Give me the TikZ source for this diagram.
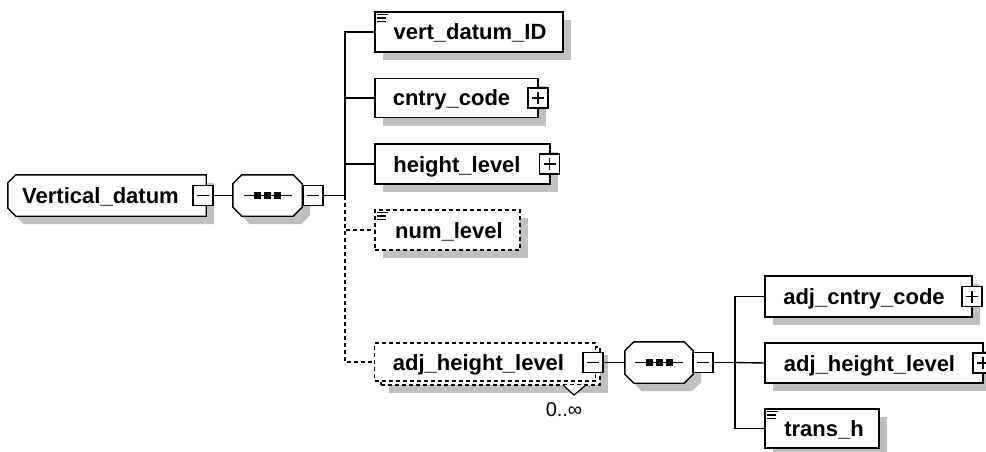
\documentclass[tikz,border=0pt]{standalone}
\usepackage{fontspec}
\setmainfont{Liberation Sans}
\usetikzlibrary{shadows}
\definecolor{shadowgray}{RGB}{192,192,192}
\tikzset{
  shd/.style={drop shadow={shadow xshift=8pt,shadow yshift=-8pt,fill=shadowgray,opacity=1}},
  elem/.style={draw, line width=1.4pt, fill=white, rectangle, inner sep=0pt, minimum height=40pt, shd},
  optelem/.style={elem, dash pattern=on 4pt off 3pt},
  anchorbox/.style={rectangle, inner sep=0pt, draw=none},
  outline/.style={draw, line width=1.4pt, fill=white, shd},
  pm/.style={draw, line width=1.2pt, fill=white, rectangle, inner sep=0pt, minimum size=20pt},
  pmline/.style={line width=1.2pt},
  conn/.style={line width=1.4pt},
  optconn/.style={conn, dash pattern=on 4pt off 3pt},
  lbl/.style={font=\fontsize{22}{22}\selectfont\bfseries, inner sep=0pt, text height=16pt, text depth=0pt},
  occ/.style={font=\fontsize{20}{20}\selectfont, inner sep=0pt},
  iconline/.style={line width=1.5pt},
}
\newcommand\mybminus[2]{\node[pm] (#1) at (#2) {};
  \draw[pmline] ([xshift=-6pt]#1.center) -- ([xshift=6pt]#1.center);}
\newcommand\mybplus[2]{\node[pm] (#1) at (#2) {};
  \draw[pmline] ([xshift=-6pt]#1.center) -- ([xshift=6pt]#1.center);
  \draw[pmline] ([yshift=-6pt]#1.center) -- ([yshift=6pt]#1.center);}
\newcommand\mybicon[1]{%
  \draw[iconline] ([xshift=3pt,yshift=-3pt]#1.north west) -- +(11,0);
  \draw[iconline] ([xshift=3pt,yshift=-6.5pt]#1.north west) -- +(9,0);
  \draw[iconline] ([xshift=3pt,yshift=-10pt]#1.north west) -- +(9,0);}
% octagon outline around an anchor node
\newcommand\myboct[2]{%
  \path[outline] ([xshift=#2]#1.north west) -- ([xshift=-#2]#1.north east)
    -- ([yshift=-#2]#1.north east) -- ([yshift=#2]#1.south east)
    -- ([xshift=-#2]#1.south east) -- ([xshift=#2]#1.south west)
    -- ([yshift=#2]#1.south west) -- ([yshift=-#2]#1.north west) -- cycle;}
% left-chamfered outline
\newcommand\myblch[2]{%
  \path[outline] ([xshift=#2]#1.north west) -- (#1.north east)
    -- (#1.south east) -- ([xshift=#2]#1.south west)
    -- ([yshift=#2]#1.south west) -- ([yshift=-#2]#1.north west) -- cycle;}
\newcommand\mybseq[1]{%
  \draw[line width=1.2pt] ([xshift=-24pt]#1.center) -- ([xshift=24pt]#1.center);
  \foreach \dx in {-10,0,10} {\fill ([xshift=\dx pt]#1.center) +(-3.5,-3.5) rectangle +(3.5,3.5);}}
\begin{document}
\begin{tikzpicture}[x=1pt,y=-1pt]
\useasboundingbox (0,0) rectangle (986,452);
\clip (0,0) rectangle (986,452);

% root element
\node[anchorbox, minimum width=198pt, minimum height=41pt] (vd) at (107,195.5) {};
\myblch{vd}{8pt}
\node[lbl] (vdt) at (100.5,195.5) {Vertical\_datum};
\mybminus{vdm}{203,195.5}

% sequence 1
\node[anchorbox, minimum width=69pt, minimum height=41pt] (seq1) at (267.5,195.5) {};
\myboct{seq1}{9pt}
\mybseq{seq1}
\mybminus{seq1m}{313,195.5}

% children of sequence 1
\node[elem, minimum width=188pt] (vdid) at (469,32) {};
\node[lbl] (vdidt) at (470,32) {vert\_datum\_ID};
\mybicon{vdid}

\node[elem, minimum width=163pt, minimum height=39pt] (cc) at (456.5,98) {};
\node[lbl] (cct) at (451.5,98) {cntry\_code};
\mybplus{ccp}{538,98}

\node[elem, minimum width=175pt] (hl) at (462.5,164) {};
\node[lbl] (hlt) at (457,164) {height\_level};
\mybplus{hlp}{549.5,164}

\node[optelem, minimum width=145pt] (nl) at (447.5,230) {};
\node[lbl] (nlt) at (449,230) {num\_level};
\mybicon{nl}

% repeated optional element
\node[optelem, minimum width=219pt, minimum height=38pt] (ahlb) at (490.5,366) {};
\draw[line width=1.2pt, fill=white] (563,385) -- (574,395) -- (586,385);
\node[draw, line width=1.4pt, fill=white, dash pattern=on 4pt off 3pt, rectangle, inner sep=0pt, minimum width=221pt, minimum height=38pt] (ahl) at (485,362) {};
\node[lbl] (ahlt) at (478.5,362) {adj\_height\_level};
\mybminus{ahlm}{593,362.5}
\node[occ] (occt) at (564,410) {0..∞};

% sequence 2
\node[anchorbox, minimum width=68pt, minimum height=41pt] (seq2) at (659,362.5) {};
\myboct{seq2}{9pt}
\mybseq{seq2}
\mybminus{seq2m}{703,362.5}

% children of sequence 2
\node[elem, minimum width=207pt, minimum height=41pt] (acc) at (868.5,296.5) {};
\node[lbl] (acct) at (864,296.5) {adj\_cntry\_code};
\mybplus{accp}{972,296.5}

\node[elem, minimum width=218pt] (ahl2) at (874,363) {};
\node[lbl] (ahl2t) at (869.5,363) {adj\_height\_level};
\mybplus{ahl2p}{983,363}

\node[elem, minimum width=114pt, minimum height=39pt] (th) at (822,428.5) {};
\node[lbl] (tht) at (824,428.5) {trans\_h};
\mybicon{th}

% connectors
\coordinate (b1) at (345,195.5);
\coordinate (b2) at (735,362.5);
\draw[conn] (vdm.east) -- (seq1.west);
\draw[conn] (seq1m.east) -- (b1);
\draw[conn] (b1) |- (vdid.west);
\draw[conn] (b1) |- (cc.west);
\draw[conn] (b1) |- (hl.west);
\draw[optconn] (b1) |- (nl.west);
\draw[optconn] (b1) |- (ahl.west);
\draw[conn] (ahlm.east) -- (seq2.west);
\draw[conn] (seq2m.east) -- (b2);
\draw[conn] (b2) |- (acc.west);
\draw[conn] (b2) -- (ahl2.west);
\draw[conn] (b2) |- (th.west);
\end{tikzpicture}
\end{document}
